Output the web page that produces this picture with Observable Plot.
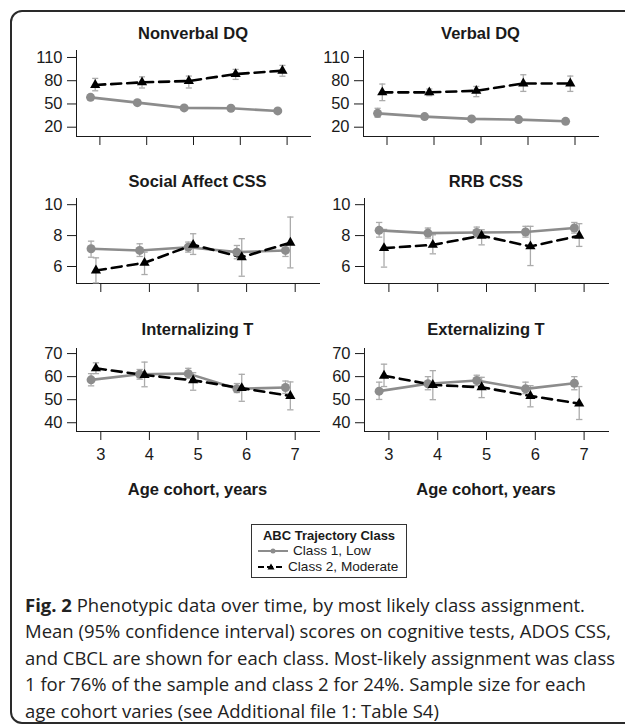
<!DOCTYPE html>
<html>
<head>
<meta charset="utf-8">
<script src="https://cdn.jsdelivr.net/npm/d3@7"></script>
<script src="https://cdn.jsdelivr.net/npm/@observablehq/plot@0.6"></script>
<style>
  html, body { margin: 0; padding: 0; background: #fff; }
  body { width: 625px; height: 728px; overflow: hidden; position: relative; font-family: "Liberation Sans", Arial, sans-serif; }
  #frame { position: absolute; left: 10px; top: 10px; width: 660px; height: 714px; border: 2px solid #2a2a2a; border-radius: 12px; box-sizing: border-box; }
  .panel { position: absolute; }
  .title { position: absolute; font-weight: bold; font-size: 16.5px; color: #1a1a1a; transform: translate(-50%, -50%); white-space: nowrap; }
  #legend { position: absolute; left: 251px; top: 524px; width: 156px; height: 54px; border: 1px solid #333; box-sizing: border-box; font-size: 13px; color: #1a1a1a; }
  #legend .lt { position: absolute; left: 0; right: 0; top: 3px; text-align: center; font-weight: bold; }
  #legend .le { position: absolute; left: 4px; white-space: nowrap; display: flex; align-items: center; font-size: 13.6px; }
  #caption { position: absolute; left: 25px; top: 592px; width: 600px; font-family: "Open Sans", sans-serif; font-size: 18.5px; line-height: 26.4px; color: #222; white-space: nowrap; }
</style>
</head>
<body>
<div id="frame"></div>
<div id="root"></div>
<div id="legend">
  <div class="lt">ABC Trajectory Class</div>
  <div class="le" style="top:18px"><svg width="33" height="12"><line x1="2" y1="6" x2="32" y2="6" stroke="#8c8c8c" stroke-width="2"/><circle cx="17" cy="6" r="2.5" fill="#8c8c8c"/></svg><span style="margin-left:4px">Class 1, Low</span></div>
  <div class="le" style="top:34px"><svg width="30" height="12"><line x1="2" y1="6" x2="29" y2="6" stroke="#000" stroke-width="2" stroke-dasharray="6,3"/><path d="M15,2.5 L18.5,8.5 L11.5,8.5 Z" fill="#000"/></svg><span style="margin-left:2px">Class 2, Moderate</span></div>
</div>
<div id="caption"><b>Fig. 2</b> Phenotypic data over time, by most likely class assignment.<br>Mean (95% confidence interval) scores on cognitive tests, ADOS CSS,<br>and CBCL are shown for each class. Most-likely assignment was class<br>1 for 76% of the sample and class 2 for 24%. Sample size for each<br>age cohort varies (see Additional file 1: Table S4)</div>
<script>
// ---- data ----
const ages = [3, 4, 5, 6, 7];
const classNames = ["Class 1, Low", "Class 2, Moderate"];
const xAxisTitle = "Age cohort, years";

const panelTitles = ["Nonverbal DQ", "Verbal DQ", "Social Affect CSS", "RRB CSS", "Internalizing T", "Externalizing T"];

const ticksDQ = [20, 50, 80, 110];
const ticksCSS = [6, 8, 10];
const ticksT = [40, 50, 60, 70];

// Nonverbal DQ
const nvC1Mean = [58.5, 51.7, 44.9, 44.4, 41.0];
const nvC1Lo = [55.5, 49.2, 42.4, 41.4, 38.3];
const nvC1Hi = [61.5, 54.2, 47.4, 47.4, 43.7];
const nvC2Mean = [74.5, 77.9, 79.6, 88.6, 92.9];
const nvC2Lo = [67.0, 70.6, 70.6, 81.7, 85.8];
const nvC2Hi = [83.0, 85.0, 86.0, 94.6, 99.8];

// Verbal DQ
const vC1Mean = [37.9, 33.7, 30.7, 29.8, 27.6];
const vC1Lo = [32.8, 31.0, 28.5, 27.5, 25.5];
const vC1Hi = [44.4, 36.4, 33.0, 32.1, 29.7];
const vC2Mean = [65.0, 65.0, 67.0, 76.5, 76.5];
const vC2Lo = [54.3, 60.7, 59.4, 66.2, 66.2];
const vC2Hi = [75.7, 69.3, 72.6, 87.7, 86.0];

// Social Affect CSS
const saC1Mean = [7.15, 7.04, 7.25, 6.93, 7.04];
const saC1Lo = [6.60, 6.65, 6.93, 6.50, 6.65];
const saC1Hi = [7.64, 7.47, 7.58, 7.36, 7.36];
const saC2Mean = [5.74, 6.24, 7.40, 6.60, 7.54];
const saC2Lo = [4.94, 5.48, 6.78, 5.37, 5.91];
const saC2Hi = [6.56, 6.93, 8.12, 7.80, 9.20];

// RRB CSS
const rrC1Mean = [8.34, 8.16, 8.20, 8.23, 8.49];
const rrC1Lo = [7.90, 7.84, 7.90, 7.90, 8.16];
const rrC1Hi = [8.85, 8.49, 8.55, 8.60, 8.85];
const rrC2Mean = [7.19, 7.40, 7.99, 7.30, 7.99];
const rrC2Lo = [5.96, 6.82, 7.40, 6.06, 7.30];
const rrC2Hi = [8.40, 8.05, 8.38, 8.60, 8.77];

// Internalizing T
const inC1Mean = [58.6, 61.0, 61.3, 54.7, 55.3];
const inC1Lo = [56.0, 58.9, 59.3, 53.1, 52.7];
const inC1Hi = [61.3, 63.1, 63.6, 57.0, 58.1];
const inC2Mean = [63.6, 60.7, 58.4, 55.0, 51.6];
const inC2Lo = [61.3, 55.6, 54.1, 49.3, 45.6];
const inC2Hi = [66.0, 66.3, 61.7, 61.0, 57.7];

// Externalizing T
const exC1Mean = [53.7, 56.9, 58.3, 54.7, 57.1];
const exC1Lo = [50.1, 54.3, 56.1, 52.6, 54.3];
const exC1Hi = [57.6, 60.0, 60.6, 57.6, 60.0];
const exC2Mean = [60.4, 56.4, 55.4, 51.6, 48.3];
const exC2Lo = [55.7, 50.0, 50.9, 46.9, 41.4];
const exC2Hi = [65.4, 62.6, 59.7, 56.1, 55.7];

// ---- layout ----
const C1 = "#8c8c8c", CI = "#ababab";
const off = [-0.2, -0.1];   // horizontal dodge of each class
const font = '"Liberation Sans", Arial, sans-serif';

const panels = [
  {title: panelTitles[0], c1: [nvC1Mean, nvC1Lo, nvC1Hi], c2: [nvC2Mean, nvC2Lo, nvC2Hi], ydom: [8, 119], yt: ticksDQ, left: 0, top: 40, ml: 76, w: 310, h: 110, mb: 14, labels: false},
  {title: panelTitles[1], c1: [vC1Mean, vC1Lo, vC1Hi], c2: [vC2Mean, vC2Lo, vC2Hi], ydom: [8, 119], yt: ticksDQ, left: 290, top: 40, ml: 73, w: 308, h: 110, mb: 14, labels: false},
  {title: panelTitles[2], c1: [saC1Mean, saC1Lo, saC1Hi], c2: [saC2Mean, saC2Lo, saC2Hi], ydom: [4.9, 10.4], yt: ticksCSS, left: 0, top: 188, ml: 76, w: 319, h: 110, mb: 15, labels: false},
  {title: panelTitles[3], c1: [rrC1Mean, rrC1Lo, rrC1Hi], c2: [rrC2Mean, rrC2Lo, rrC2Hi], ydom: [4.9, 10.4], yt: ticksCSS, left: 290, top: 188, ml: 74, w: 318, h: 110, mb: 15, labels: false},
  {title: panelTitles[4], c1: [inC1Mean, inC1Lo, inC1Hi], c2: [inC2Mean, inC2Lo, inC2Hi], ydom: [36.2, 72.2], yt: ticksT, left: 0, top: 338, ml: 76, w: 319, h: 133, mb: 40, labels: true},
  {title: panelTitles[5], c1: [exC1Mean, exC1Lo, exC1Hi], c2: [exC2Mean, exC2Lo, exC2Hi], ydom: [36.2, 72.2], yt: ticksT, left: 290, top: 338, ml: 74, w: 318, h: 133, mb: 40, labels: true}
];
const titleY = [33, 33, 181, 181, 329, 329];

const root = document.getElementById("root");

panels.forEach((p, k) => {
  const rows1 = ages.map((a, i) => ({x: a + off[0], m: p.c1[0][i], lo: p.c1[1][i], hi: p.c1[2][i]}));
  const rows2 = ages.map((a, i) => ({x: a + off[1], m: p.c2[0][i], lo: p.c2[1][i], hi: p.c2[2][i]}));
  const all = rows1.concat(rows2);
  const capW = 0.065;
  const chart = Plot.plot({
    width: p.w, height: p.h,
    marginLeft: p.ml, marginRight: 0, marginTop: 10, marginBottom: p.mb,
    style: {fontFamily: font, fontSize: "16.5px", color: "#1a1a1a", background: "transparent", overflow: "visible"},
    x: {domain: [2.5, 7.5], ticks: ages, tickSize: 9, tickPadding: 8, tickFormat: p.labels ? (d => String(d)) : (() => ""), label: null, line: true},
    y: {domain: p.ydom, ticks: p.yt, tickSize: 9, tickPadding: 5, tickFormat: d => String(d), label: null, line: true},
    marks: [
      Plot.ruleX(all, {x: "x", y1: "lo", y2: "hi", stroke: CI, strokeWidth: 1.3}),
      Plot.link(all, {x1: d => d.x - capW, x2: d => d.x + capW, y1: "hi", y2: "hi", stroke: CI, strokeWidth: 1.3}),
      Plot.link(all, {x1: d => d.x - capW, x2: d => d.x + capW, y1: "lo", y2: "lo", stroke: CI, strokeWidth: 1.3}),
      Plot.line(rows1, {x: "x", y: "m", stroke: C1, strokeWidth: 2.6}),
      Plot.line(rows2, {x: "x", y: "m", stroke: "#000", strokeWidth: 2.6, strokeDasharray: "10,6"}),
      Plot.dot(rows1, {x: "x", y: "m", r: 4.5, fill: C1, stroke: "none"}),
      Plot.dot(rows2, {x: "x", y: "m", symbol: "triangle", r: 3.8, fill: "#000", stroke: "none"})
    ]
  });
  const wrap = document.createElement("div");
  wrap.className = "panel";
  wrap.style.left = p.left + "px";
  wrap.style.top = p.top + "px";
  wrap.appendChild(chart);
  root.appendChild(wrap);

  const cx = p.left + p.ml + (p.w - p.ml) / 2;
  const t = document.createElement("div");
  t.className = "title";
  t.textContent = p.title;
  t.style.left = cx + "px";
  t.style.top = titleY[k] + "px";
  root.appendChild(t);

  if (p.labels) {
    const a = document.createElement("div");
    a.className = "title";
    a.textContent = xAxisTitle;
    a.style.left = cx + "px";
    a.style.top = "489px";
    root.appendChild(a);
  }
});
</script>
</body>
</html>
